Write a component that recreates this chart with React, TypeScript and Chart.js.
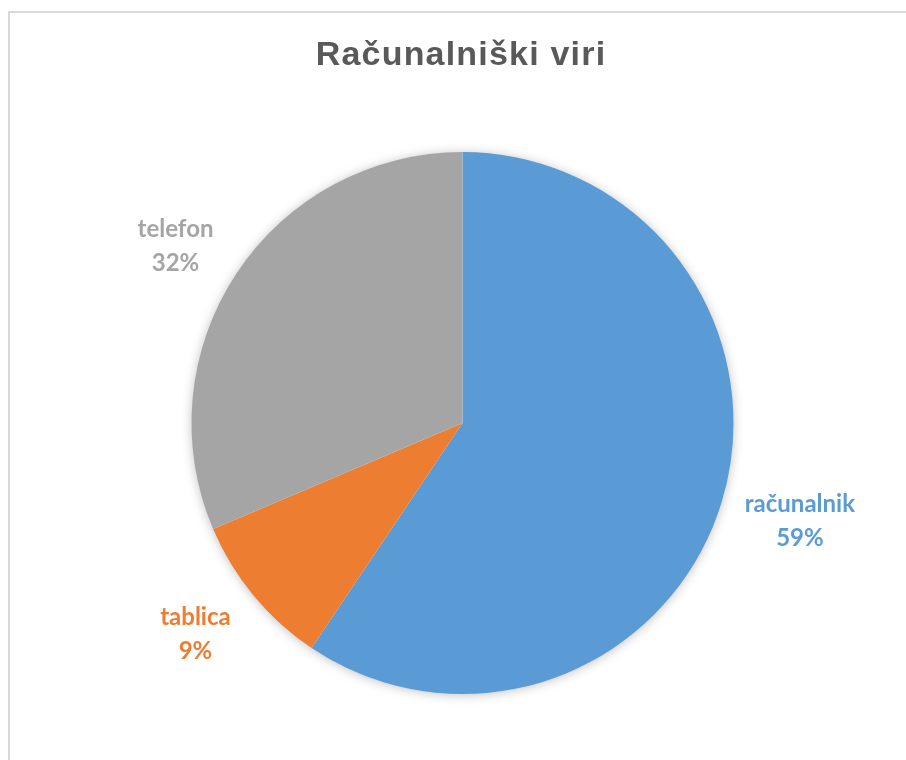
import React, { useEffect, useRef } from "react";
import { Chart, registerables } from "chart.js";

Chart.register(...registerables);

const categories = ["računalnik", "tablica", "telefon"];
const values = [59.4, 9.2, 31.4];
// percentage labels as printed in the reference
const pctLabels = ["59%", "9%", "32%"];
const colors = ["#5B9BD5", "#ED7D31", "#A5A5A5"];
const titleText = "Računalniški viri";

const W = 906;
const H = 760;

const framePlugin = {
  id: "frame",
  beforeDraw(chart: any) {
    const ctx = chart.ctx;
    ctx.save();
    ctx.fillStyle = "#ffffff";
    ctx.fillRect(0, 0, W, H);
    ctx.strokeStyle = "#d9d9d9";
    ctx.lineWidth = 2;
    ctx.beginPath();
    ctx.moveTo(9, H + 5);
    ctx.lineTo(9, 12);
    ctx.lineTo(W + 5, 12);
    ctx.stroke();
    // title
    ctx.fillStyle = "#595959";
    ctx.font = "bold 34px 'Liberation Sans', Arial, sans-serif";
    (ctx as any).letterSpacing = "1.2px";
    ctx.textAlign = "center";
    ctx.textBaseline = "alphabetic";
    ctx.fillText(titleText, 461, 65);
    (ctx as any).letterSpacing = "0px";
    ctx.restore();
  },
  beforeDatasetsDraw(chart: any) {
    const meta = chart.getDatasetMeta(0);
    const el = meta.data[0];
    if (!el) return;
    const ctx = chart.ctx;
    ctx.save();
    ctx.shadowColor = "rgba(0,0,0,0.28)";
    ctx.shadowBlur = 12;
    ctx.shadowOffsetX = 0;
    ctx.shadowOffsetY = 1;
    ctx.fillStyle = "#ffffff";
    ctx.beginPath();
    ctx.arc(el.x, el.y, el.outerRadius - 1, 0, Math.PI * 2);
    ctx.fill();
    ctx.restore();
  },
  afterDatasetsDraw(chart: any) {
    const meta = chart.getDatasetMeta(0);
    const ctx = chart.ctx;
    ctx.save();
    ctx.font = "bold 24px Lato, 'Open Sans', sans-serif";
    ctx.textAlign = "center";
    ctx.textBaseline = "middle";
    const lineGap = 34;
    meta.data.forEach((arc: any, i: number) => {
      const mid = (arc.startAngle + arc.endAngle) / 2;
      const pct = pctLabels[i];
      const w = Math.max(ctx.measureText(categories[i]).width, ctx.measureText(pct).width);
      const c = Math.cos(mid);
      const s = Math.sin(mid);
      const rx = arc.x + c * arc.outerRadius;
      const ry = arc.y + s * arc.outerRadius;
      const x = rx + Math.sign(c) * (23 + w / 2);
      const y = ry + 55 * s + 3;
      ctx.fillStyle = colors[i];
      ctx.fillText(categories[i], x, y - lineGap / 2);
      ctx.fillText(pct, x, y + lineGap / 2);
    });
    ctx.restore();
  },
};

export default function App() {
  const ref = useRef<HTMLCanvasElement>(null);
  useEffect(() => {
    if (!ref.current) return;
    const chart = new Chart(ref.current, {
      type: "pie",
      data: {
        labels: categories,
        datasets: [
          {
            data: values,
            backgroundColor: colors,
            borderWidth: 0,
          },
        ],
      },
      options: {
        responsive: false,
        animation: false,
        layout: {
          padding: { left: 191, right: 172, top: 152, bottom: 66 },
        },
        plugins: {
          legend: { display: false },
          title: { display: false },
          tooltip: { enabled: false },
        },
      },
      plugins: [framePlugin],
    });
    return () => chart.destroy();
  }, []);
  return (
    <div style={{ position: "absolute", left: 0, top: 0, width: W, height: H, overflow: "hidden" }}>
      <canvas ref={ref} width={W} height={H} style={{ display: "block" }} />
    </div>
  );
}
